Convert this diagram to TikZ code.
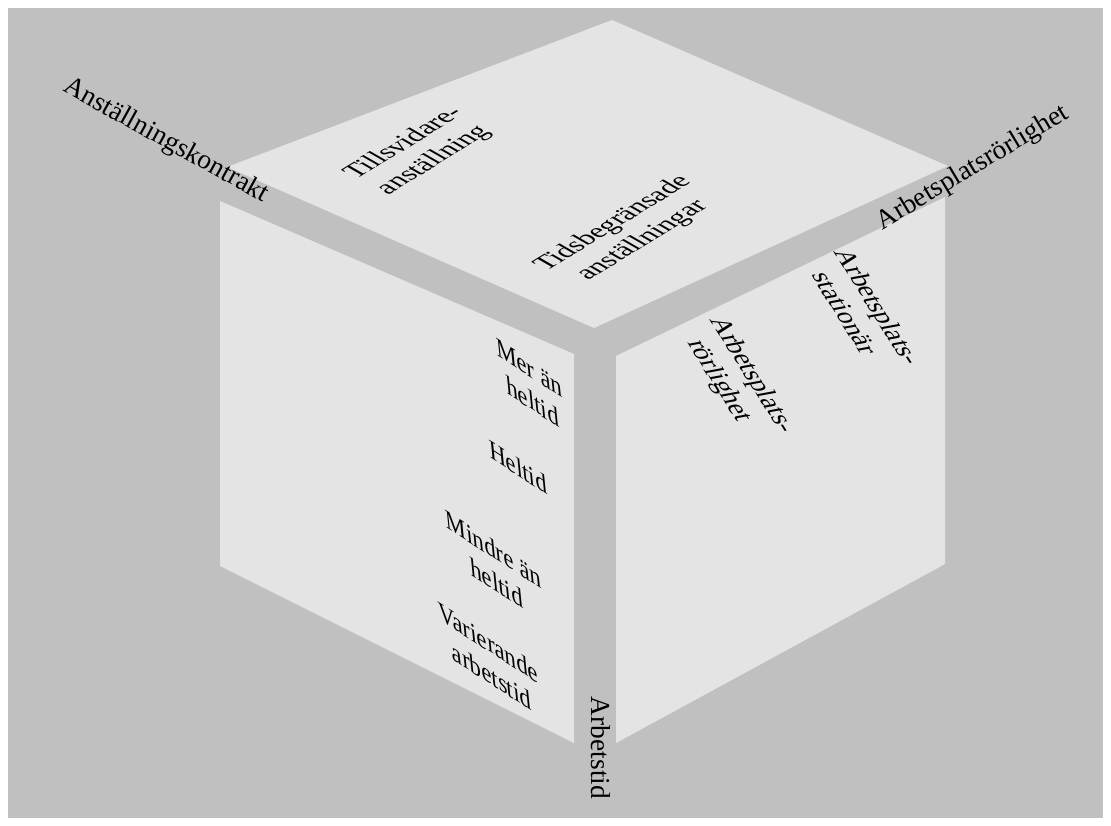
\documentclass[tikz,border=0pt]{standalone}
\usepackage{fontspec}
\setmainfont{Liberation Serif}
\definecolor{bggray}{RGB}{192,192,192}
\definecolor{facegray}{RGB}{228,228,228}
\newcommand{\cubefont}{\fontsize{19.5}{24}\selectfont}

\begin{document}
\begin{tikzpicture}[x=0.025cm,y=-0.025cm,
  face/.style={fill=facegray,draw=none},
  lbl/.style={font=\cubefont,align=center,inner sep=0pt},
  ontop/.style={lbl,cm={0.85,0.52,-0.87,0.5,(0,0)}},
  onleft/.style={lbl,cm={0.84,-0.54,-0.1,1,(0,0)}},
  onright/.style={lbl,cm={0.53,-0.85,0.98,0.18,(0,0)}}
]
  \useasboundingbox (0,0) rectangle (1111,825);
  \fill[white] (0,0) rectangle (1111,825);
  \fill[bggray] (8,8) rectangle (1103,818);

  % Faces of the cube
  \begin{scope}
    \clip (8,8) rectangle (1103,818);
    \fill[face] (227,167) -- (612,20) -- (948,166) -- (594,328) -- cycle;
    \fill[face] (220,201) -- (574,354) -- (574,743) -- (220,566) -- cycle;
    \fill[face] (616,356) -- (945,197) -- (945,564) -- (616,743) -- cycle;
  \end{scope}

  % Axes
  \node[lbl,rotate=-29] (kontrakt) at (166,141) {Anställningskontrakt};
  \node[lbl,rotate=31] (rorlighet) at (973,168) {Arbetsplatsrörlighet};
  \node[lbl,rotate=-90] (arbetstid) at (601,748) {Arbetstid};

  % Top face
  \node[ontop] (tillsvidare) at (419,152) {Tillsvidare-\\anställning};
  \node[ontop] (tidsbegr) at (628,232) {Tidsbegränsade\\anställningar};

  % Left face
  \node[onleft] (meran) at (531,385) {Mer än\\heltid};
  \node[onleft] (heltid) at (518,467) {Heltid};
  \node[onleft] (mindre) at (495,566) {Mindre än\\heltid};
  \node[onleft] (varierande) at (490,659) {Varierande\\arbetstid};

  % Right face
  \node[onright] (rorlig) at (735,378) {Arbetsplats-\\rörlighet};
  \node[onright] (stationar) at (862,310) {Arbetsplats-\\stationär};
\end{tikzpicture}
\end{document}
